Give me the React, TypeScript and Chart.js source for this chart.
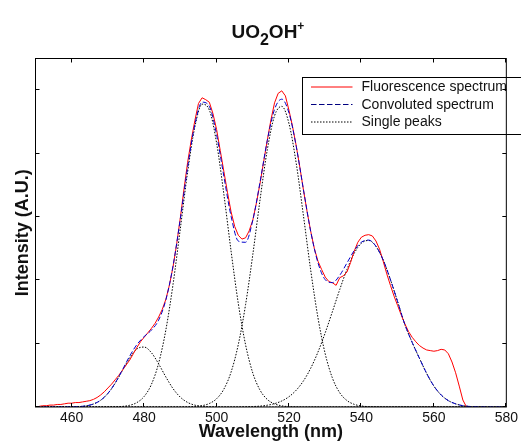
import React, { useEffect, useRef } from "react";
import { Chart, registerables } from "chart.js";

Chart.register(...registerables);

// ---------- data ----------
const modelNm = [
  450, 452, 454, 456, 458, 460, 462, 464, 466, 468, 470, 472, 474, 476, 478, 480, 482, 484, 486, 488,
  490, 492, 494, 496, 498, 500, 502, 504, 506, 508, 510, 512, 514, 516, 518, 520, 522, 524, 526, 528,
  530, 532, 534, 536, 538, 540, 542, 544, 546, 548, 550, 552, 554, 556, 558, 560, 562, 564, 566, 568,
  570, 572, 574, 576, 578, 580,
];

const singlePeak1 = [
  0, 0, 0, 0, 0.001, 0.002, 0.006, 0.018, 0.047, 0.107, 0.214, 0.375, 0.576, 0.776, 0.915, 0.946, 0.857, 0.68, 0.473, 0.288,
  0.154, 0.072, 0.029, 0.011, 0.003, 0.001, 0, 0, 0, 0, 0, 0, 0, 0, 0, 0, 0, 0, 0, 0,
  0, 0, 0, 0, 0, 0, 0, 0, 0, 0, 0, 0, 0, 0, 0, 0, 0, 0, 0, 0,
  0, 0, 0, 0, 0, 0,
];

const singlePeak2 = [
  0, 0, 0, 0, 0, 0, 0, 0, 0, 0, 0.001, 0.003, 0.009, 0.027, 0.07, 0.166, 0.356, 0.691, 1.218, 1.946,
  2.82, 3.708, 4.42, 4.779, 4.687, 4.168, 3.362, 2.46, 1.632, 0.983, 0.536, 0.266, 0.119, 0.049, 0.018, 0.006, 0.002, 0, 0, 0,
  0, 0, 0, 0, 0, 0, 0, 0, 0, 0, 0, 0, 0, 0, 0, 0, 0, 0, 0, 0,
  0, 0, 0, 0, 0, 0,
];

const singlePeak3 = [
  0, 0, 0, 0, 0, 0, 0, 0, 0, 0, 0, 0, 0, 0, 0, 0, 0, 0, 0, 0,
  0.001, 0.002, 0.008, 0.021, 0.055, 0.13, 0.281, 0.551, 0.987, 1.613, 2.405, 3.271, 4.059, 4.595, 4.745, 4.47, 3.842, 3.012, 2.154, 1.406,
  0.837, 0.454, 0.225, 0.102, 0.042, 0.016, 0.005, 0.002, 0, 0, 0, 0, 0, 0, 0, 0, 0, 0, 0, 0,
  0, 0, 0, 0, 0, 0,
];

const singlePeak4 = [
  0, 0, 0, 0, 0, 0, 0, 0, 0, 0, 0, 0, 0, 0, 0, 0, 0, 0, 0, 0,
  0, 0, 0, 0, 0, 0, 0, 0, 0, 0.003, 0.007, 0.014, 0.028, 0.053, 0.095, 0.163, 0.266, 0.413, 0.613, 0.868,
  1.172, 1.509, 1.853, 2.171, 2.426, 2.585, 2.629, 2.535, 2.32, 2.01, 1.66, 1.3, 1.02, 0.77, 0.53, 0.33, 0.19, 0.1, 0.05, 0.02,
  0.008, 0.003, 0.001, 0, 0, 0,
];

const convolutedSpectrum = [
  0, 0, 0, 0, 0.001, 0.002, 0.006, 0.018, 0.047, 0.107, 0.215, 0.378, 0.585, 0.803, 0.985, 1.112, 1.213, 1.371, 1.691, 2.234,
  2.975, 3.782, 4.457, 4.811, 4.745, 4.299, 3.643, 3.011, 2.619, 2.599, 2.948, 3.551, 4.206, 4.697, 4.858, 4.639, 4.11, 3.425, 2.767, 2.274,
  2.009, 1.963, 2.078, 2.273, 2.468, 2.601, 2.634, 2.537, 2.32, 2.01, 1.66, 1.3, 1.02, 0.77, 0.53, 0.33, 0.19, 0.1, 0.05, 0.02,
  0.008, 0.003, 0.001, 0, 0, 0,
];

const fluorNm = [
  451, 452, 453, 454, 455, 456, 457, 458, 459, 460, 461, 462, 463, 464, 465, 466, 467, 468, 469, 470,
  471, 472, 473, 474, 475, 476, 477, 478, 479, 480, 481, 482, 483, 484, 485, 486, 487, 488, 489, 490,
  491, 492, 493, 494, 495, 496, 497, 498, 499, 500, 501, 502, 503, 504, 505, 506, 507, 508, 509, 510,
  511, 512, 513, 514, 515, 516, 517, 518, 519, 520, 521, 522, 523, 524, 525, 526, 527, 528, 529, 530,
  531, 532, 533, 534, 535, 536, 537, 538, 539, 540, 541, 542, 543, 544, 545, 546, 547, 548, 549, 550,
  551, 552, 553, 554, 555, 556, 557, 558, 559, 560, 561, 562, 563, 564, 565, 566, 567, 568, 569,
];

const fluorIntensity = [
  0.01, 0.02, 0.02, 0.03, 0.03, 0.04, 0.04, 0.05, 0.06, 0.06, 0.07, 0.07, 0.08, 0.09, 0.1, 0.12, 0.15, 0.19, 0.24, 0.3,
  0.36, 0.43, 0.5, 0.58, 0.66, 0.74, 0.84, 0.94, 1.03, 1.1, 1.17, 1.24, 1.32, 1.42, 1.54, 1.7, 1.93, 2.22, 2.58, 2.99,
  3.44, 3.86, 4.21, 4.52, 4.79, 4.88, 4.85, 4.81, 4.63, 4.38, 4.05, 3.72, 3.39, 3.08, 2.85, 2.71, 2.65, 2.67, 2.78, 2.95,
  3.22, 3.53, 3.87, 4.21, 4.53, 4.8, 4.95, 4.99, 4.91, 4.68, 4.42, 4.12, 3.78, 3.42, 3.08, 2.77, 2.5, 2.3, 2.17, 2.05,
  1.98, 1.96, 1.92, 2.04, 2.07, 2.13, 2.28, 2.46, 2.6, 2.68, 2.71, 2.72, 2.7, 2.62, 2.49, 2.3, 2.1, 1.92, 1.75, 1.6,
  1.45, 1.31, 1.19, 1.1, 1.03, 0.97, 0.93, 0.9, 0.89, 0.88, 0.89, 0.91, 0.9, 0.84, 0.71, 0.54, 0.33, 0.11, 0,
];

const xTickValues = [460, 480, 500, 520, 540, 560, 580];
const yTickValues = [0, 1, 2, 3, 4, 5];
const xRange = [450, 580];
const yRange = [0, 5.5];

const xAxisTitle = "Wavelength (nm)";
const yAxisTitle = "Intensity (A.U.)";
const titleParts = [
  { text: "UO", size: 19, dy: 0 },
  { text: "2", size: 16, dy: 7 },
  { text: "OH", size: 19, dy: 0 },
  { text: "+", size: 12, dy: -8 },
];
const legendLabels = ["Fluorescence spectrum", "Convoluted spectrum", "Single peaks"];

const FONT = "Arial, 'Liberation Sans', Helvetica, sans-serif";
const RED = "#ff0000";
const BLUE = "#0000cc";
const BLACK = "#000000";
const legendStyles = [
  { color: RED, dash: [] as number[] },
  { color: "#000080", dash: [5.5, 2.5] },
  { color: BLACK, dash: [1.5, 1.5] },
];

const overlayPlugin = {
  id: "overlay",
  afterDatasetsDraw(chart: any) {
    const ctx = chart.ctx as CanvasRenderingContext2D;
    const { left, right, top, bottom } = chart.chartArea;
    const xs = chart.scales.x;
    const ys = chart.scales.y;
    ctx.save();
    // legend box
    const bx = left + 267;
    const by = top + 19;
    const bw = 240;
    const bh = 57;
    ctx.setLineDash([]);
    ctx.fillStyle = "#ffffff";
    ctx.fillRect(bx, by, bw, bh);
    ctx.strokeStyle = BLACK;
    ctx.lineWidth = 1;
    ctx.strokeRect(bx, by, bw, bh);
    ctx.font = `14px ${FONT}`;
    ctx.textBaseline = "middle";
    ctx.textAlign = "left";
    legendLabels.forEach((label, i) => {
      const ry = by + 9.5 + i * 17.5;
      ctx.strokeStyle = legendStyles[i].color;
      ctx.setLineDash(legendStyles[i].dash);
      ctx.beginPath();
      ctx.moveTo(bx + 8.5, ry);
      ctx.lineTo(bx + 50, ry);
      ctx.stroke();
      ctx.setLineDash([]);
      ctx.fillStyle = "#111111";
      ctx.fillText(label, bx + 59, ry + 0.5);
    });
    // frame
    ctx.strokeStyle = BLACK;
    ctx.lineWidth = 1;
    ctx.strokeRect(left, top, right - left, bottom - top);
    // inward tick marks
    const tl = 4;
    ctx.beginPath();
    xs.ticks.forEach((t: any) => {
      const px = Math.round(xs.getPixelForValue(t.value)) - 0.5;
      ctx.moveTo(px, bottom);
      ctx.lineTo(px, bottom - tl);
      ctx.moveTo(px, top);
      ctx.lineTo(px, top + tl);
    });
    ys.ticks.forEach((t: any) => {
      const py = Math.round(ys.getPixelForValue(t.value)) - 0.5;
      ctx.moveTo(left, py);
      ctx.lineTo(left + tl, py);
      ctx.moveTo(right, py);
      ctx.lineTo(right - tl, py);
    });
    ctx.stroke();
    // title
    ctx.fillStyle = "#111111";
    ctx.textBaseline = "alphabetic";
    let total = 0;
    const widths = titleParts.map((p) => {
      ctx.font = `bold ${p.size}px ${FONT}`;
      const w = ctx.measureText(p.text).width;
      total += w;
      return w;
    });
    let cx = (left + right) / 2 - total / 2 - 3;
    const baseY = 37.5;
    titleParts.forEach((p, i) => {
      ctx.font = `bold ${p.size}px ${FONT}`;
      ctx.fillText(p.text, cx, baseY + p.dy);
      cx += widths[i];
    });
    ctx.restore();
  },
};

function toPoints(xsArr: number[], ysArr: number[]) {
  return xsArr.map((x, i) => ({ x, y: ysArr[i] }));
}

export default function App() {
  const canvasRef = useRef<HTMLCanvasElement | null>(null);

  useEffect(() => {
    if (!canvasRef.current) return;
    const peakStyle = {
      borderColor: BLACK,
      borderWidth: 1,
      borderDash: [1.5, 1.5],
      pointRadius: 0,
      fill: false,
      cubicInterpolationMode: "monotone" as const,
    };
    const chart = new Chart(canvasRef.current, {
      type: "line",
      data: {
        datasets: [
          {
            label: legendLabels[1],
            data: toPoints(modelNm, convolutedSpectrum),
            borderColor: BLUE,
            borderWidth: 1,
            borderDash: [5, 2.5],
            pointRadius: 0,
            fill: false,
            cubicInterpolationMode: "monotone",
          },
          {
            label: legendLabels[0],
            data: toPoints(fluorNm, fluorIntensity),
            borderColor: RED,
            borderWidth: 1,
            pointRadius: 0,
            fill: false,
            tension: 0,
          },
          { label: legendLabels[2], data: toPoints(modelNm, singlePeak1), ...peakStyle },
          { label: legendLabels[2], data: toPoints(modelNm, singlePeak2), ...peakStyle },
          { label: legendLabels[2], data: toPoints(modelNm, singlePeak3), ...peakStyle },
          { label: legendLabels[2], data: toPoints(modelNm, singlePeak4), ...peakStyle },
        ],
      },
      options: {
        animation: false,
        responsive: false,
        maintainAspectRatio: false,
        devicePixelRatio: 1,
        layout: { padding: { left: 12.4, right: 12.5, top: 58.5, bottom: 6.8 } },
        plugins: {
          legend: { display: false },
          tooltip: { enabled: false },
          title: { display: false },
        },
        scales: {
          x: {
            type: "linear",
            min: xRange[0],
            max: xRange[1],
            grid: { display: false, drawTicks: false },
            border: { display: false },
            afterBuildTicks: (scale: any) => {
              scale.ticks = xTickValues.map((v) => ({ value: v }));
            },
            ticks: {
              padding: 3,
              color: "#111111",
              font: { family: FONT, size: 14 },
              maxRotation: 0,
              autoSkip: false,
            },
            title: {
              display: true,
              text: xAxisTitle,
              color: "#111111",
              font: { family: FONT, size: 18, weight: "bold", lineHeight: 0.245 },
              padding: { top: 0, bottom: 0 },
            },
          },
          y: {
            type: "linear",
            min: yRange[0],
            max: yRange[1],
            grid: { display: false, drawTicks: false },
            border: { display: false },
            afterBuildTicks: (scale: any) => {
              scale.ticks = yTickValues.map((v) => ({ value: v }));
            },
            ticks: { display: false },
            title: {
              display: true,
              text: yAxisTitle,
              color: "#111111",
              font: { family: FONT, size: 18, weight: "bold" },
              padding: { top: 0, bottom: 1.5 },
            },
          },
        },
      },
      plugins: [overlayPlugin],
    });
    return () => chart.destroy();
  }, []);

  return (
    <div
      style={{
        position: "absolute",
        left: 0,
        top: 0,
        width: 521,
        height: 441,
        overflow: "hidden",
        background: "#ffffff",
      }}
    >
      <canvas ref={canvasRef} width={521} height={441} style={{ display: "block", width: 521, height: 441 }} />
    </div>
  );
}
